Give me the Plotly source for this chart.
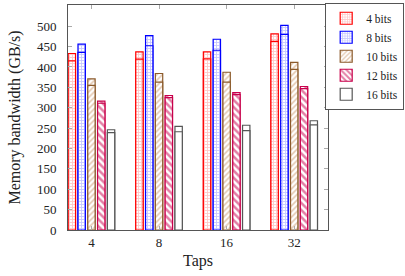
import plotly.graph_objects as go

taps = ["4", "8", "16", "32"]
series = ["4 bits", "8 bits", "10 bits", "12 bits", "16 bits"]
peak = {
    "4 bits": [433, 437, 437, 481],
    "8 bits": [456, 477, 468, 502],
    "10 bits": [371, 384, 387, 411],
    "12 bits": [316, 330, 337, 352],
    "16 bits": [246, 254, 257, 268],
}
actual = {
    "4 bits": [415, 419, 420, 463],
    "8 bits": [436, 452, 441, 480],
    "10 bits": [355, 363, 363, 394],
    "12 bits": [311, 325, 332, 347],
    "16 bits": [239, 241, 244, 258],
}
y_ticks = [0, 50, 100, 150, 200, 250, 300, 350, 400, 450, 500]

styles = {
    "4 bits": dict(line="#ff0000", fg="#ff9090", shape="+", size=3, sol=0.5),
    "8 bits": dict(line="#0000ff", fg="#9090ff", shape="+", size=3, sol=0.5),
    "10 bits": dict(line="#8b5a2b", fg="#c89060", shape="/", size=4, sol=0.4),
    "12 bits": dict(line="#c8004b", fg="#c8004b", shape="\\", size=5, sol=0.5),
    "16 bits": dict(line="#555555", fg="#ffffff", shape="", size=4, sol=0.3),
}

xs = list(range(len(taps)))
fig = go.Figure()
for i, s in enumerate(series):
    st = styles[s]
    for vals, show in ((peak[s], True), (actual[s], False)):
        fig.add_trace(go.Bar(
            x=xs, y=vals, name=s, offsetgroup=str(i), showlegend=show,
            legendgroup=s,
            marker=dict(
                color="white",
                line=dict(color=st["line"], width=1.2),
                pattern=dict(shape=st["shape"], fgcolor=st["fg"], bgcolor="white",
                             size=st["size"], solidity=st["sol"], fillmode="overlay"),
            ),
        ))

fig.update_layout(
    width=405, height=276,
    margin=dict(l=68, r=77, t=5, b=46, autoexpand=False),
    paper_bgcolor="white", plot_bgcolor="white",
    barmode="group", bargap=0.275, bargroupgap=0.25,
    font=dict(family="Liberation Serif, DejaVu Serif, serif", size=13, color="#222"),
    legend=dict(xref="container", yref="container", x=0.998, y=0.99,
                xanchor="right", yanchor="top",
                bordercolor="#555", borderwidth=1, bgcolor="white",
                font=dict(size=11.5), tracegroupgap=0, itemwidth=30),
    showlegend=True,
)
fig.update_xaxes(
    range=[-0.347, 3.5], tickmode="array", tickvals=xs, ticktext=taps,
    ticks="inside", ticklen=4, tickcolor="#aaa", mirror="ticks",
    showline=True, linecolor="#555", linewidth=1, showgrid=False, zeroline=False,
    automargin=False, title=dict(text="Taps", standoff=6),
)
fig.update_yaxes(
    range=[0, 552], tickmode="array", tickvals=y_ticks,
    ticks="inside", ticklen=4, tickcolor="#aaa", mirror="ticks",
    ticklabelstandoff=8,
    showline=True, linecolor="#555", linewidth=1, showgrid=False, zeroline=False,
    automargin=False, title=dict(text="Memory bandwidth (GB/s)", standoff=12),
)
fig.write_html("out.html", config={"displayModeBar": False},
               post_script="document.body.style.margin='0';")
